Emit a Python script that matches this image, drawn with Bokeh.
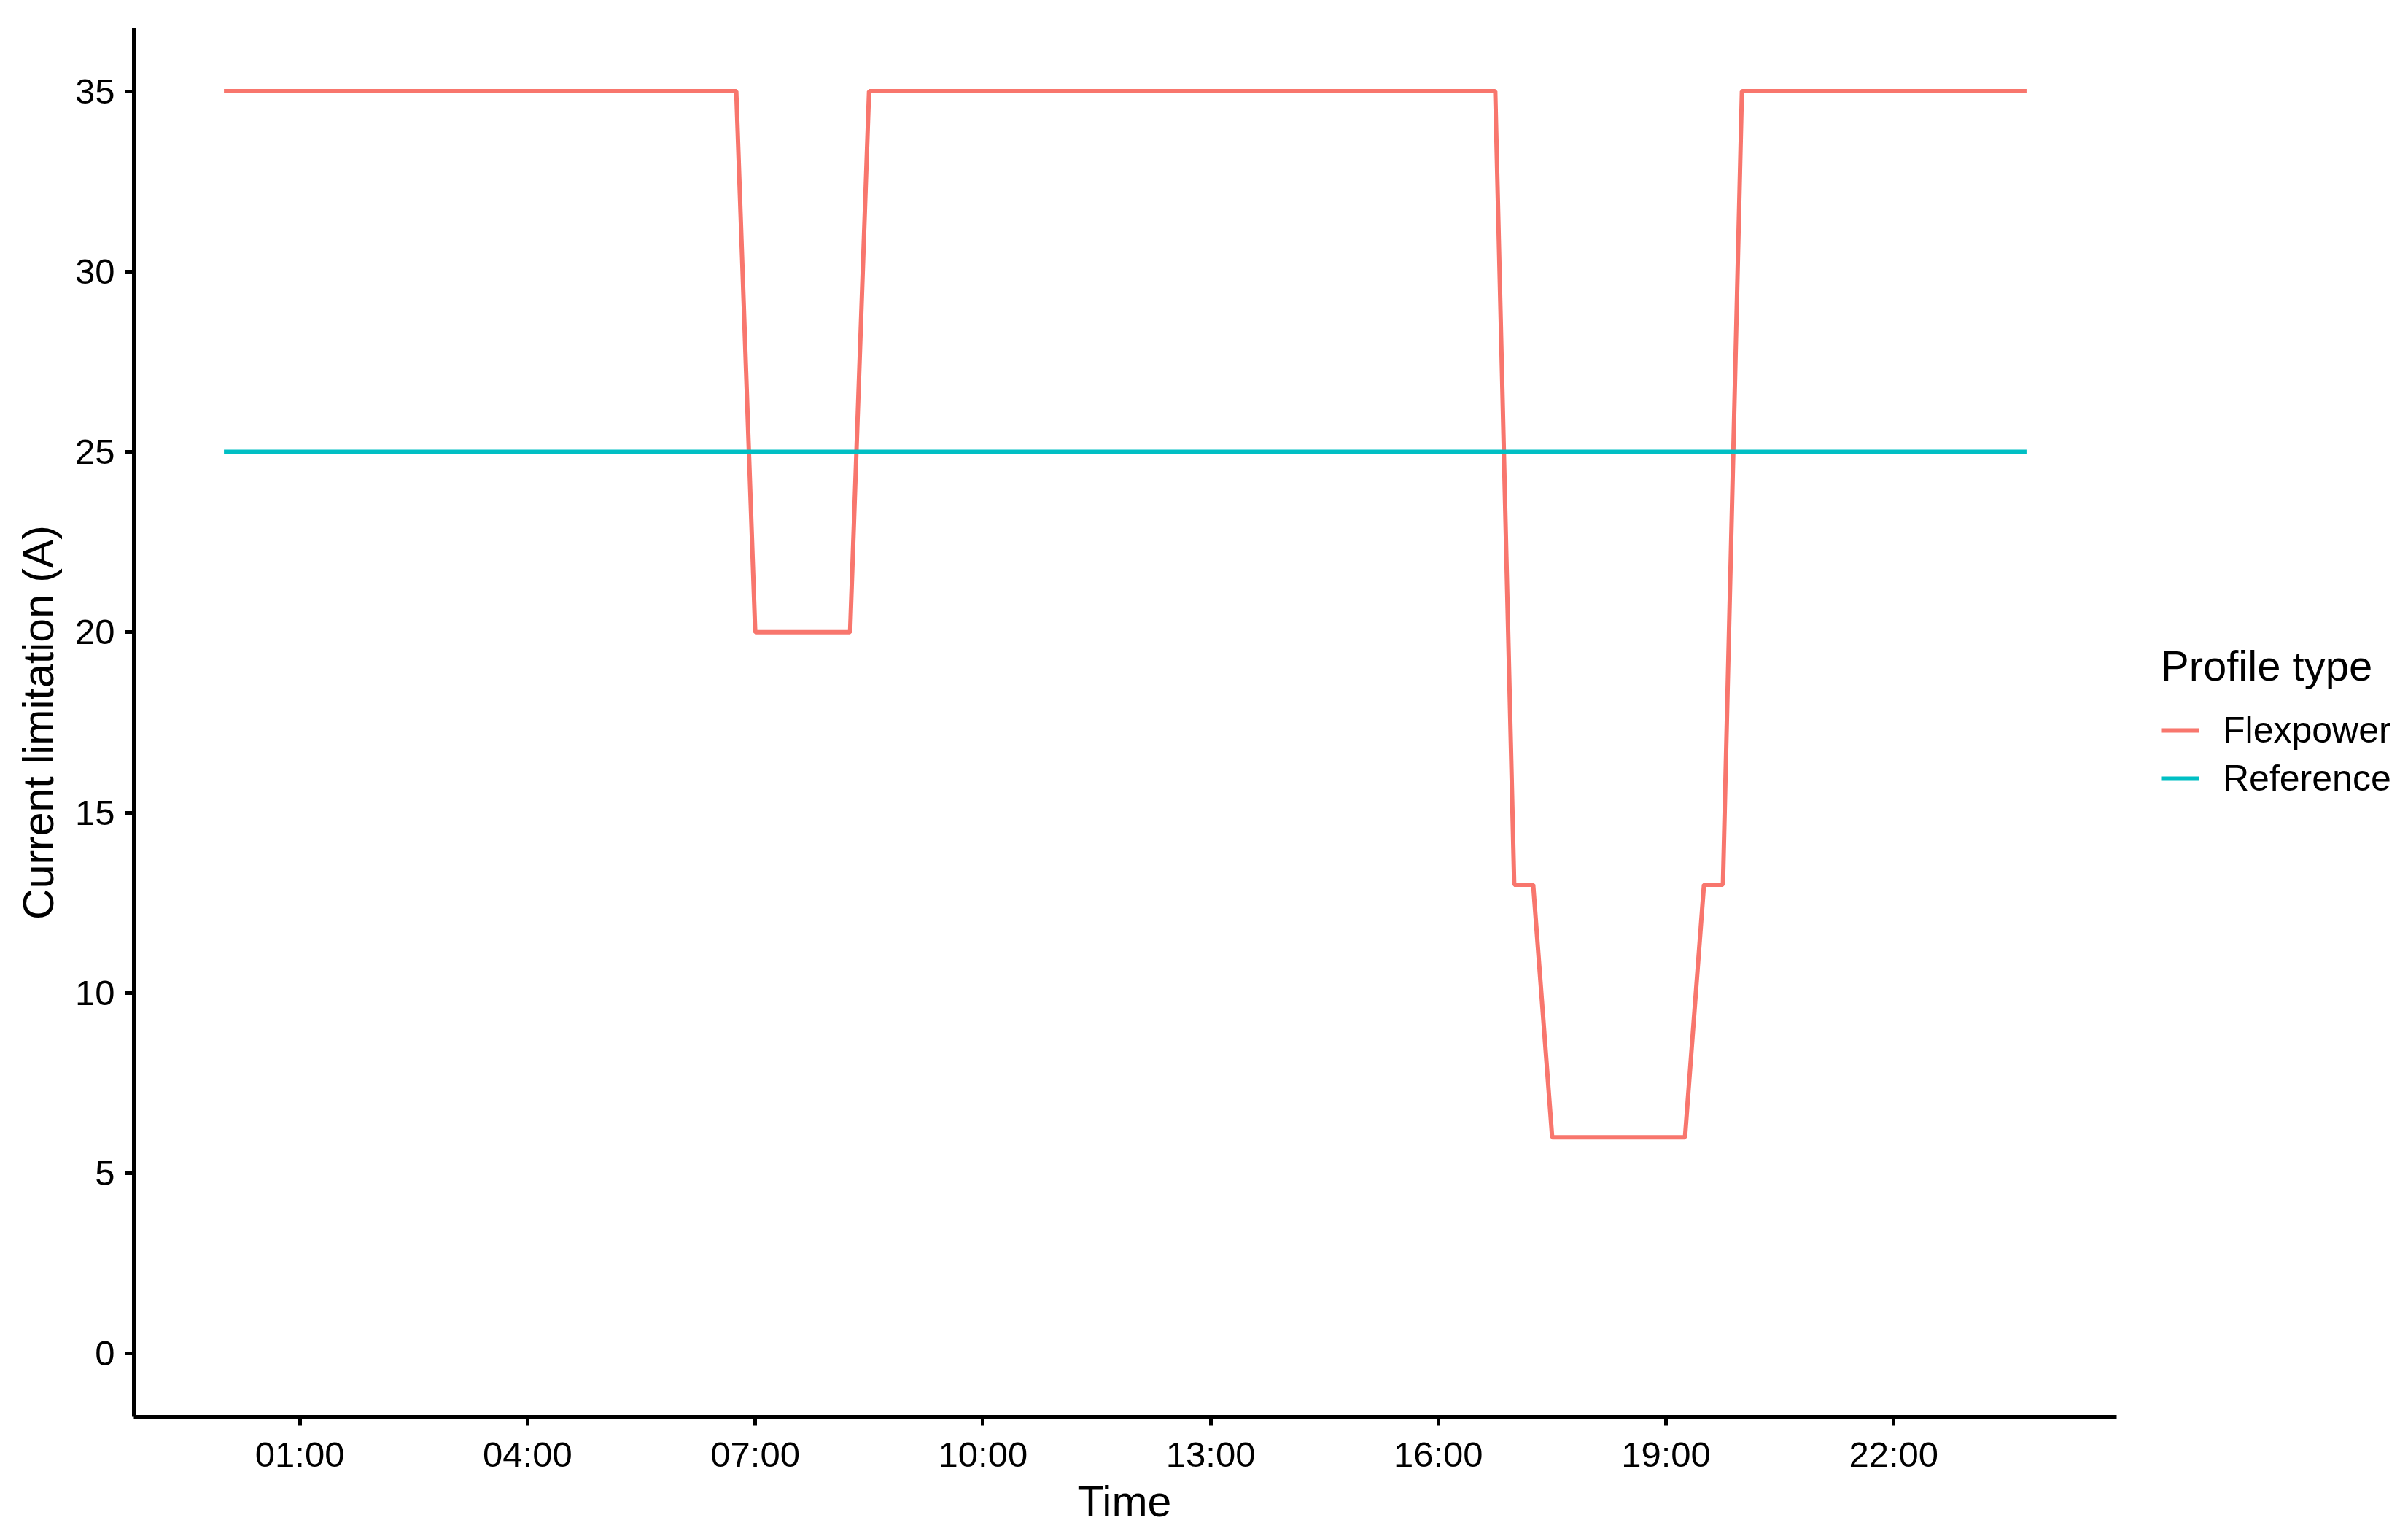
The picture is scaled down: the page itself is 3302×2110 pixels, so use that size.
import pandas as pd
from bokeh.plotting import figure
from bokeh.models import Legend, LegendItem, FixedTicker, DatetimeTickFormatter, Range1d, Title
from bokeh.embed import file_html
from bokeh.resources import INLINE

DAY = "2021-01-01 "

flex_times = ["00:00", "06:45", "07:00", "08:15", "08:30", "16:45", "17:00",
              "17:15", "17:30", "19:15", "19:30", "19:45", "20:00", "23:45"]
flex_values = [35, 35, 20, 20, 35, 35, 13, 13, 6, 6, 13, 13, 35, 35]

ref_times = ["00:00", "23:45"]
ref_values = [25, 25]

x_tick_labels = ["01:00", "04:00", "07:00", "10:00", "13:00", "16:00", "19:00", "22:00"]
y_ticks = [0, 5, 10, 15, 20, 25, 30, 35]

FLEX_COLOR = "#F8766D"
REF_COLOR = "#00BFC4"
FONT = "Liberation Sans"


def to_dt(ts):
    return pd.to_datetime([DAY + t for t in ts])


def ms(ts):
    return pd.Timestamp(ts).value / 1e6


fx = to_dt(flex_times)
rx = to_dt(ref_times)

# ggplot-like 5% expansion
xmin, xmax = min(fx.min(), rx.min()), max(fx.max(), rx.max())
xpad = (xmax - xmin) * 0.05
ymin, ymax = 0, 35
ypad = (ymax - ymin) * 0.05

# layout (pixels)
W, H = 3290, 2100
LEFT, TOP = 183, 38
PANEL_RIGHT, PANEL_BOTTOM = 2902, 1942

x0, x1 = ms(xmin - xpad), ms(xmax + xpad)
# frame extends to the figure's right edge so the legend can sit beside the panel;
# the x axis line is bounded to the panel's data range
x_end = x0 + (x1 - x0) * (W - LEFT) / (PANEL_RIGHT - LEFT)

p = figure(width=W, height=H, x_axis_type="datetime",
           output_backend="svg", toolbar_location=None,
           x_range=Range1d(x0, x_end),
           y_range=Range1d(ymin - ypad, ymax + ypad),
           min_border_left=LEFT, min_border_right=0,
           min_border_top=TOP, min_border_bottom=H - PANEL_BOTTOM)

p.background_fill_color = "white"
p.border_fill_color = "white"
p.outline_line_color = None
p.grid.grid_line_color = None

r_flex = p.line(fx, flex_values, line_color=FLEX_COLOR, line_width=6)
r_ref = p.line(rx, ref_values, line_color=REF_COLOR, line_width=6)

tick_ms = [ms(DAY + t) for t in x_tick_labels]
p.xaxis.ticker = FixedTicker(ticks=tick_ms)
p.xaxis.bounds = (x0, x1)
fmt = "%H:%M"
p.xaxis.formatter = DatetimeTickFormatter(
    microseconds=fmt, milliseconds=fmt, seconds=fmt, minsec=fmt, minutes=fmt,
    hourmin=fmt, hours=fmt, days=fmt, months=fmt, years=fmt)
p.yaxis.ticker = FixedTicker(ticks=y_ticks)

for ax in (p.xaxis, p.yaxis):
    ax.axis_line_width = 5
    ax.axis_line_color = "black"
    ax.major_tick_line_width = 5
    ax.major_tick_line_color = "black"
    ax.major_tick_out = 12
    ax.major_tick_in = 0
    ax.minor_tick_line_color = None
    ax.major_label_text_font = FONT
    ax.major_label_text_font_size = "49px"
    ax.major_label_text_color = "black"
    ax.axis_label_text_font = FONT
    ax.axis_label_text_font_size = "59px"
    ax.axis_label_text_font_style = "normal"
    ax.axis_label_text_color = "black"

p.yaxis.axis_label = "Current limitation (A)"
p.xaxis.major_label_standoff = 12
p.yaxis.major_label_standoff = 14
p.yaxis.axis_label_standoff = 14

# x axis title, centred under the panel (not under the extended frame)
TITLE_SIZE = 59
time_w = 2.222 * TITLE_SIZE
x_title = Title(text="Time", align="left",
                offset=(PANEL_RIGHT - LEFT) / 2 - time_w / 2,
                text_font=FONT, text_font_size=f"{TITLE_SIZE}px",
                text_font_style="normal", text_color="black", standoff=0)
p.add_layout(x_title, "below")

legend = Legend(items=[LegendItem(label="Flexpower", renderers=[r_flex]),
                       LegendItem(label="Reference", renderers=[r_ref])],
                location=(2780, 842))
legend.title = "Profile type"
legend.title_text_font = FONT
legend.title_text_font_size = "58px"
legend.title_text_font_style = "normal"
legend.title_text_color = "black"
legend.title_standoff = 22
legend.label_text_font = FONT
legend.label_text_font_size = "50px"
legend.label_text_color = "black"
legend.glyph_width = 53
legend.glyph_height = 66
legend.label_height = 66
legend.label_standoff = 32
legend.spacing = 0
legend.padding = 0
legend.margin = 0
legend.border_line_color = None
legend.background_fill_color = None
legend.background_fill_alpha = 0
p.add_layout(legend, "center")

open("out.html", "w").write(file_html(p, INLINE))
